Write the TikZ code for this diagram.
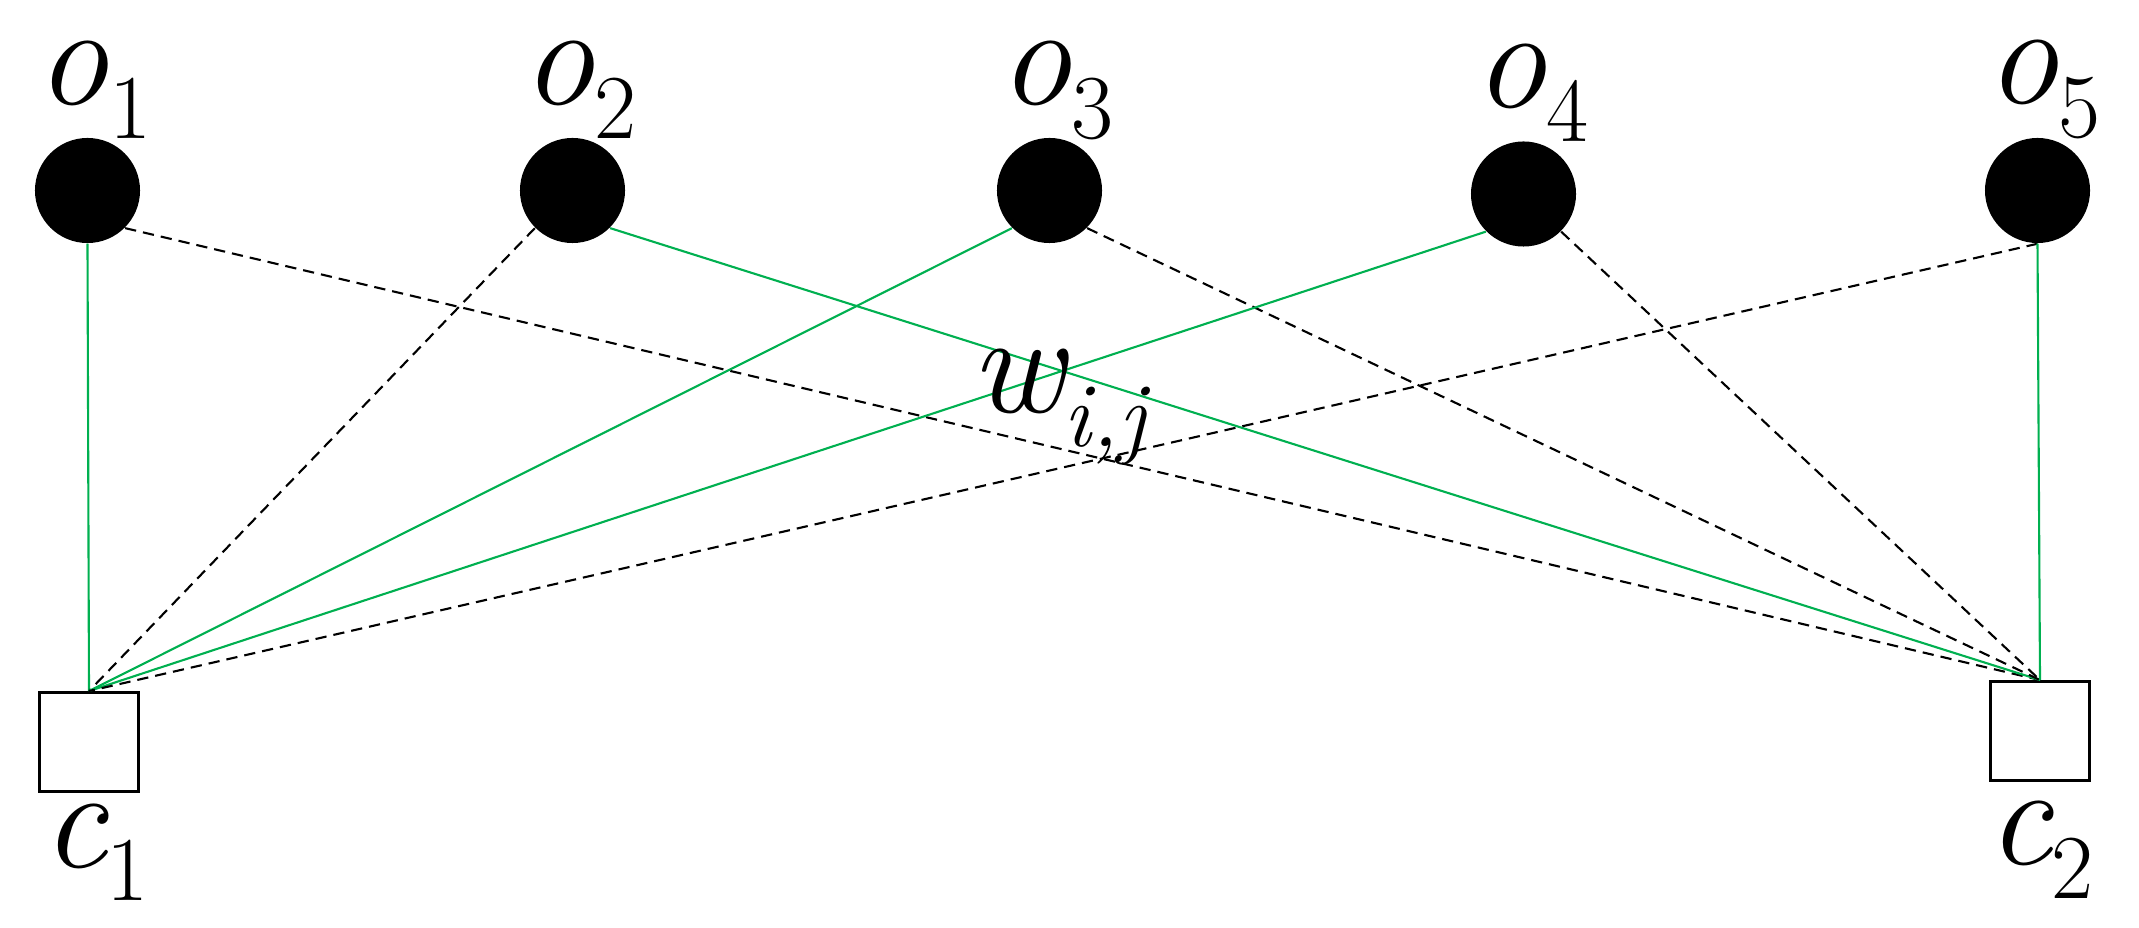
\documentclass[tikz,border=0pt]{standalone}
\definecolor{edgegreen}{RGB}{0,176,80}
\newcommand{\symlab}[2]{{\fontsize{41}{41}\selectfont\itshape #1}\raisebox{-9.4pt}{\fontsize{26}{26}\selectfont #2}}
\begin{document}
\begin{tikzpicture}[x=0.01cm,y=-0.01cm,
  obj/.style={circle,fill=black,inner sep=0pt,minimum size=1.05cm},
  cls/.style={rectangle,draw=black,line width=0.95pt,fill=white,inner sep=0pt,minimum size=0.985cm},
  lab/.style={anchor=base west,inner sep=0pt,outer sep=0pt},
  gedge/.style={draw=edgegreen,line width=0.6pt},
  dedge/.style={draw=black,line width=0.6pt,dash pattern=on 3.2pt off 2pt}]
\useasboundingbox (0,0) rectangle (2139,928);
% nodes
\node[obj] (o1) at (87.5,190.5) {};
\node[obj] (o2) at (572.5,190.5) {};
\node[obj] (o3) at (1049.5,190.5) {};
\node[obj] (o4) at (1523.5,194) {};
\node[obj] (o5) at (2037.5,190.5) {};
\node[cls] (c1) at (89,742) {};
\node[cls] (c2) at (2040,731) {};
% edges
\draw[gedge] (o1.south) -- (c1.north);
\draw[dedge] (o1.south east) -- (c2.north);
\draw[dedge] (o2.south west) -- (c1.north);
\draw[gedge] (o2.south east) -- (c2.north);
\draw[gedge] (o3.south west) -- (c1.north);
\draw[dedge] (o3.south east) -- (c2.north);
\draw[gedge] (o4.south west) -- (c1.north);
\draw[dedge] (o4.south east) -- (c2.north);
\draw[dedge] (o5.south) -- (c1.north);
\draw[gedge] (o5.south) -- (c2.north);
% labels
\node[lab] (lo1) at (37,105) {\symlab{o}{1}};
\node[lab] (lo2) at (522,105) {\symlab{o}{2}};
\node[lab] (lo3) at (999,105) {\symlab{o}{3}};
\node[lab] (lo4) at (1474,108) {\symlab{o}{4}};
\node[lab] (lo5) at (1986,104) {\symlab{o}{5}};
\node[lab] (lw) at (970,413) {\symlab{w}{\itshape i,j}};
\node[lab] (lc1) at (42,867) {\symlab{c}{1}};
\node[lab] (lc2) at (1987,865) {\symlab{c}{2}};
\end{tikzpicture}
\end{document}
